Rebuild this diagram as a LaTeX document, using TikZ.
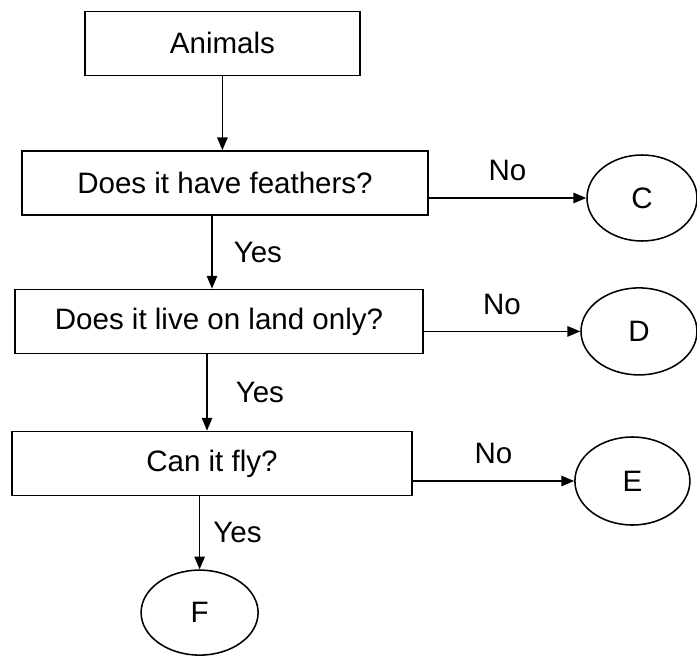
\documentclass[tikz,border=0pt]{standalone}
\usepackage{fontspec}
\setmainfont{Liberation Sans}
\usepackage{tikz}
\usetikzlibrary{shapes.geometric, arrows.meta, positioning, calc}

\begin{document}
\begin{tikzpicture}[x=1mm,y=1mm,
  qbox/.style={draw, line width=1.1pt, minimum height=16mm, inner sep=0pt},
  endnode/.style={draw, ellipse, line width=1.1pt, inner sep=0pt},
  flow/.style={line width=1.1pt, -{Triangle[length=3.2mm,width=2.6mm]}},
  lbl/.style={inner sep=1mm},
  font=\fontsize{21}{25}\selectfont]
  \path[use as bounding box] (0,0) rectangle (174.25,164.25);
  \fill[white] (0,0) rectangle (174.25,164.25);
  % question boxes
  \node[qbox, minimum width=68.75mm] (animals) at (55.6,153.4) {Animals};
  \node[qbox, minimum width=101.5mm] (feathers) at (56.25,118.5) {Does it have feathers?};
  \node[qbox, minimum width=102mm] (land) at (54.75,83.9) {Does it live on land only?};
  \node[qbox, minimum width=100mm] (fly) at (53,48.4) {Can it fly?};
  % outcomes
  \node[endnode, minimum width=27.5mm, minimum height=21.5mm] (c) at (160.5,114.75) {C};
  \node[endnode, minimum width=29mm, minimum height=21.75mm] (d) at (159.75,81.4) {D};
  \node[endnode, minimum width=28.75mm, minimum height=22mm] (e) at (158.1,44) {E};
  \node[endnode, minimum width=29.25mm, minimum height=21.25mm] (f) at (49.9,11.1) {F};
  % yes branch
  \draw[flow] (animals.south) -- (animals.south |- feathers.north);
  \draw[flow] ([xshift=-3.25mm]feathers.south) -- ([xshift=-3.25mm]feathers.south |- land.north)
    node[lbl, midway, right=4.25mm] (yes1) {Yes};
  \draw[flow] ([xshift=-3mm]land.south) -- ([xshift=-3mm]land.south |- fly.north)
    node[lbl, midway, right=6mm] (yes2) {Yes};
  \draw[flow] (fly.south -| f.north) -- (f.north)
    node[lbl, midway, right=2.25mm] (yes3) {Yes};
  % no branch
  \draw[flow] (c.west -| feathers.east) -- (c.west)
    node[lbl, midway, above=3mm] (no1) {No};
  \draw[flow] (d.west -| land.east) -- (d.west)
    node[lbl, midway, above=3mm] (no2) {No};
  \draw[flow] (e.west -| fly.east) -- (e.west)
    node[lbl, midway, above=3mm] (no3) {No};
\end{tikzpicture}
\end{document}
